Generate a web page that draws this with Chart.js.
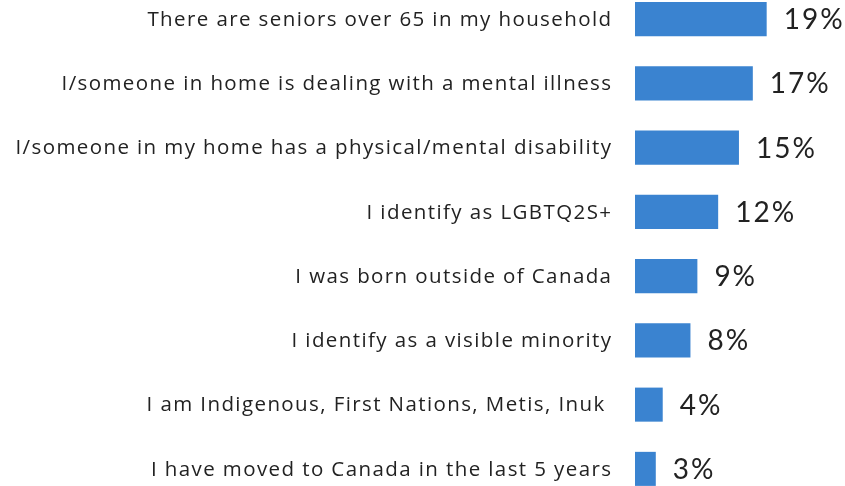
<!DOCTYPE html>
<html lang="en">
<head>
<meta charset="UTF-8" />
<title>Household characteristics</title>
<style>
    html, body { margin: 0; padding: 0; background: #fff; overflow: hidden; }
    .wrap { position: relative; width: 845px; height: 514px; margin-top: -13px; }
</style>
</head>
<body>
<div class="wrap">
    <canvas id="chart" width="845" height="514"></canvas>
</div>

<script src="https://cdn.jsdelivr.net/npm/chart.js"></script>
<script>
    const categories = [
        'There are seniors over 65 in my household',
        'I/someone in home is dealing with a mental illness',
        'I/someone in my home has a physical/mental disability',
        'I identify as LGBTQ2S+',
        'I was born outside of Canada',
        'I identify as a visible minority',
        'I am Indigenous, First Nations, Metis, Inuk ',
        'I have moved to Canada in the last 5 years'
    ];
    const percents = [19, 17, 15, 12, 9, 8, 4, 3];

    const barColor = '#3a83d0';
    const textColor = '#222222';

    // category names left of the bars + values right of the bars
    // (drawn by hand so we can use letter spacing)
    const labelsPlugin = {
        id: 'labelsPlugin',
        afterDatasetsDraw(chart) {
            const ctx = chart.ctx;
            const yScale = chart.scales.y;
            const meta = chart.getDatasetMeta(0);
            ctx.save();
            ctx.fillStyle = textColor;
            ctx.textBaseline = 'middle';

            ctx.font = '20.5px "Open Sans"';
            ctx.letterSpacing = '1.4px';
            ctx.textAlign = 'right';
            categories.forEach((name, i) => {
                const y = yScale.getPixelForValue(i);
                ctx.fillText(name, chart.chartArea.left - 24 + 1.4, y + 1);
            });

            ctx.font = '28px Lato';
            ctx.letterSpacing = '2px';
            ctx.textAlign = 'left';
            meta.data.forEach((bar, i) => {
                ctx.fillText(percents[i] + '%', bar.x + 17, bar.y + 1);
            });
            ctx.restore();
        }
    };

    new Chart(document.getElementById('chart'), {
        type: 'bar',
        data: {
            labels: categories,
            datasets: [{
                data: percents,
                backgroundColor: barColor,
                borderWidth: 0,
                barPercentage: 0.53,
                categoryPercentage: 1
            }]
        },
        options: {
            indexAxis: 'y',
            responsive: false,
            animation: false,
            layout: { padding: { left: 635, right: 0, top: 0, bottom: 0 } },
            plugins: {
                legend: { display: false },
                tooltip: { enabled: false }
            },
            scales: {
                x: { display: false, min: 0, max: 30.3 },
                y: { display: false }
            }
        },
        plugins: [labelsPlugin]
    });
</script>
</body>
</html>
